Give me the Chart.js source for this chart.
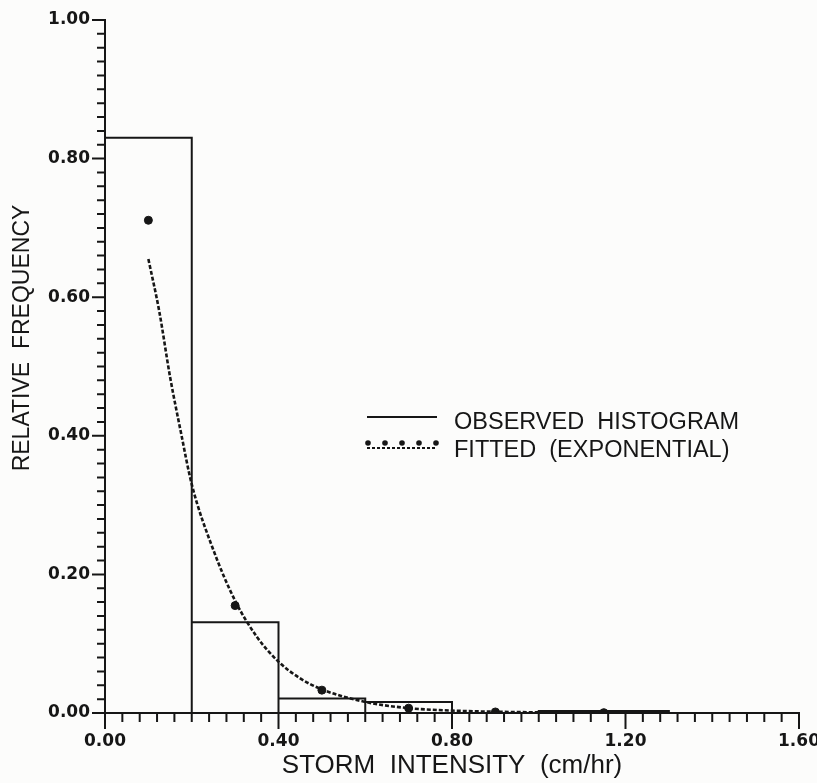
<!DOCTYPE html>
<html lang="en">
  <head>
    <meta charset="UTF-8" />
    <title>Storm intensity histogram</title>
    <script src="https://cdn.jsdelivr.net/npm/chart.js"></script>
    <style>
      * {
        margin: 0;
        padding: 0;
        box-sizing: border-box;
      }
      body {
        background-color: #fcfcfb;
        width: 817px;
        height: 783px;
        overflow: hidden;
      }
      #wrap {
        position: relative;
        width: 817px;
        height: 783px;
      }
    </style>
  </head>
  <body>
    <div id="wrap"><canvas id="stormChart"></canvas></div>

    <script>
      // Observed histogram (bin edges in cm/hr, relative frequency per bin)
      const binEdges = [0, 0.2, 0.4, 0.6, 0.8, 1.0, 1.3];
      const observedFreq = [0.83, 0.131, 0.021, 0.016, 0, 0.003];

      // Fitted exponential curve
      const curveX = [0.1, 0.125, 0.15, 0.175, 0.2, 0.25, 0.3, 0.35, 0.4, 0.45, 0.5, 0.6, 0.7, 0.8, 0.9, 1.0, 1.15];
      const curveY = [0.655, 0.58, 0.485, 0.405, 0.33, 0.235, 0.162, 0.11, 0.074, 0.05, 0.034, 0.016, 0.007, 0.0035, 0.0018, 0.001, 0.0004];

      // Fitted values at the bin mid points (the dots)
      const dotX = [0.1, 0.3, 0.5, 0.7, 0.9, 1.15];
      const dotY = [0.711, 0.155, 0.033, 0.007, 0.0015, 0.0005];

      const xLabels = ["0.00", "0.40", "0.80", "1.20", "1.60"];
      const yLabels = ["0.00", "0.20", "0.40", "0.60", "0.80", "1.00"];

      const ink = "#161616";

      // outline of the histogram boxes
      function histogramOutline(edges, freq) {
        const pts = [];
        for (let i = 0; i < freq.length; i++) {
          pts.push({ x: edges[i], y: 0 });
          pts.push({ x: edges[i], y: freq[i] });
          pts.push({ x: edges[i + 1], y: freq[i] });
          pts.push({ x: edges[i + 1], y: 0 });
        }
        return pts;
      }

      function pairs(xs, ys) {
        return xs.map((x, i) => ({ x, y: ys[i] }));
      }

      // small ticks every 0.04 / 0.02, labelled every tenth one
      function minorTicks(max, step) {
        const ticks = [];
        const n = Math.round(max / step);
        for (let i = 0; i <= n; i++) ticks.push({ value: i * step });
        return ticks;
      }

      const tickPlugin = {
        id: "plotterTicks",
        afterDraw(chart) {
          const ctx = chart.ctx;
          const xs = chart.scales.x;
          const ys = chart.scales.y;
          ctx.save();
          ctx.strokeStyle = ink;
          ctx.lineWidth = 2;
          ctx.beginPath();
          xs.ticks.forEach((t, i) => {
            const px = xs.getPixelForValue(t.value);
            const len = i % 10 === 0 ? 16 : 9;
            ctx.moveTo(px, xs.top);
            ctx.lineTo(px, xs.top + len);
          });
          ys.ticks.forEach((t, i) => {
            const py = ys.getPixelForValue(t.value);
            const len = i % 10 === 0 ? 13 : 8;
            ctx.moveTo(ys.right, py);
            ctx.lineTo(ys.right - len, py);
          });
          ctx.stroke();

          // y axis title
          ctx.fillStyle = ink;
          ctx.font = '23px "Liberation Sans", Arial, sans-serif';
          ctx.textAlign = "center";
          ctx.textBaseline = "middle";
          ctx.translate(23, 338);
          ctx.rotate(-Math.PI / 2);
          ctx.fillText(ys.options.title.text, 0, 0);
          ctx.restore();

          // legend
          const ds = chart.data.datasets;
          ctx.save();
          ctx.strokeStyle = ink;
          ctx.fillStyle = ink;
          ctx.lineWidth = 2;
          ctx.beginPath();
          ctx.moveTo(367, 417);
          ctx.lineTo(437, 417);
          ctx.stroke();
          ctx.setLineDash([3, 2]);
          ctx.lineWidth = 1.8;
          ctx.beginPath();
          ctx.moveTo(367, 448);
          ctx.lineTo(437, 448);
          ctx.stroke();
          for (let i = 0; i < 5; i++) {
            ctx.beginPath();
            ctx.arc(368 + i * 17, 443, 2.8, 0, Math.PI * 2);
            ctx.fill();
          }
          ctx.font = '23.5px "Liberation Sans", Arial, sans-serif';
          ctx.textAlign = "left";
          ctx.textBaseline = "alphabetic";
          ctx.fillText(ds[0].label, 454, 429);
          ctx.fillText(ds[1].label, 454, 457);
          ctx.restore();
        },
      };

      new Chart(document.getElementById("stormChart"), {
        type: "line",
        data: {
          datasets: [
            {
              label: "OBSERVED  HISTOGRAM",
              data: histogramOutline(binEdges, observedFreq),
              borderColor: ink,
              borderWidth: 2,
              pointRadius: 0,
              tension: 0,
            },
            {
              label: "FITTED  (EXPONENTIAL)",
              data: pairs(curveX, curveY),
              borderColor: ink,
              borderWidth: 2.6,
              borderDash: [4, 2],
              pointRadius: 0,
              cubicInterpolationMode: "monotone",
            },
            {
              label: "fitted points",
              type: "scatter",
              data: pairs(dotX, dotY),
              backgroundColor: ink,
              borderColor: ink,
              pointRadius: 4,
              showLine: false,
            },
          ],
        },
        options: {
          responsive: true,
          maintainAspectRatio: false,
          animation: false,
          layout: { padding: { top: 20, right: 18, left: 0, bottom: 0 } },
          plugins: {
            legend: { display: false },
            tooltip: { enabled: false },
          },
          scales: {
            x: {
              type: "linear",
              min: 0,
              max: 1.6,
              afterBuildTicks: (s) => (s.ticks = minorTicks(1.6, 0.04)),
              afterFit: (s) => {
                s.height = 70;
                s.paddingLeft = 0;
                s.paddingRight = 0;
              },
              grid: { display: false, drawTicks: false },
              border: { color: ink, width: 2 },
              ticks: {
                autoSkip: false,
                maxRotation: 0,
                padding: 18,
                color: ink,
                font: { family: '"DejaVu Sans", sans-serif', size: 17, weight: "bold" },
                callback: (v, i) => (i % 10 === 0 ? xLabels[i / 10] : ""),
              },
              title: {
                display: true,
                text: "STORM  INTENSITY  (cm/hr)",
                color: ink,
                padding: { top: 0, bottom: 2 },
                font: { family: '"Liberation Sans", Arial, sans-serif', size: 26 },
              },
            },
            y: {
              type: "linear",
              min: 0,
              max: 1,
              afterBuildTicks: (s) => (s.ticks = minorTicks(1, 0.02)),
              afterFit: (s) => {
                s.width = 105;
                s.paddingTop = 0;
                s.paddingBottom = 0;
              },
              grid: { display: false, drawTicks: false },
              border: { color: ink, width: 2 },
              ticks: {
                autoSkip: false,
                padding: 15,
                color: ink,
                font: { family: '"DejaVu Sans", sans-serif', size: 17, weight: "bold" },
                callback: (v, i) => (i % 10 === 0 ? yLabels[i / 10] : ""),
              },
              title: { display: false, text: "RELATIVE  FREQUENCY" },
            },
          },
        },
        plugins: [tickPlugin],
      });
    </script>
  </body>
</html>
